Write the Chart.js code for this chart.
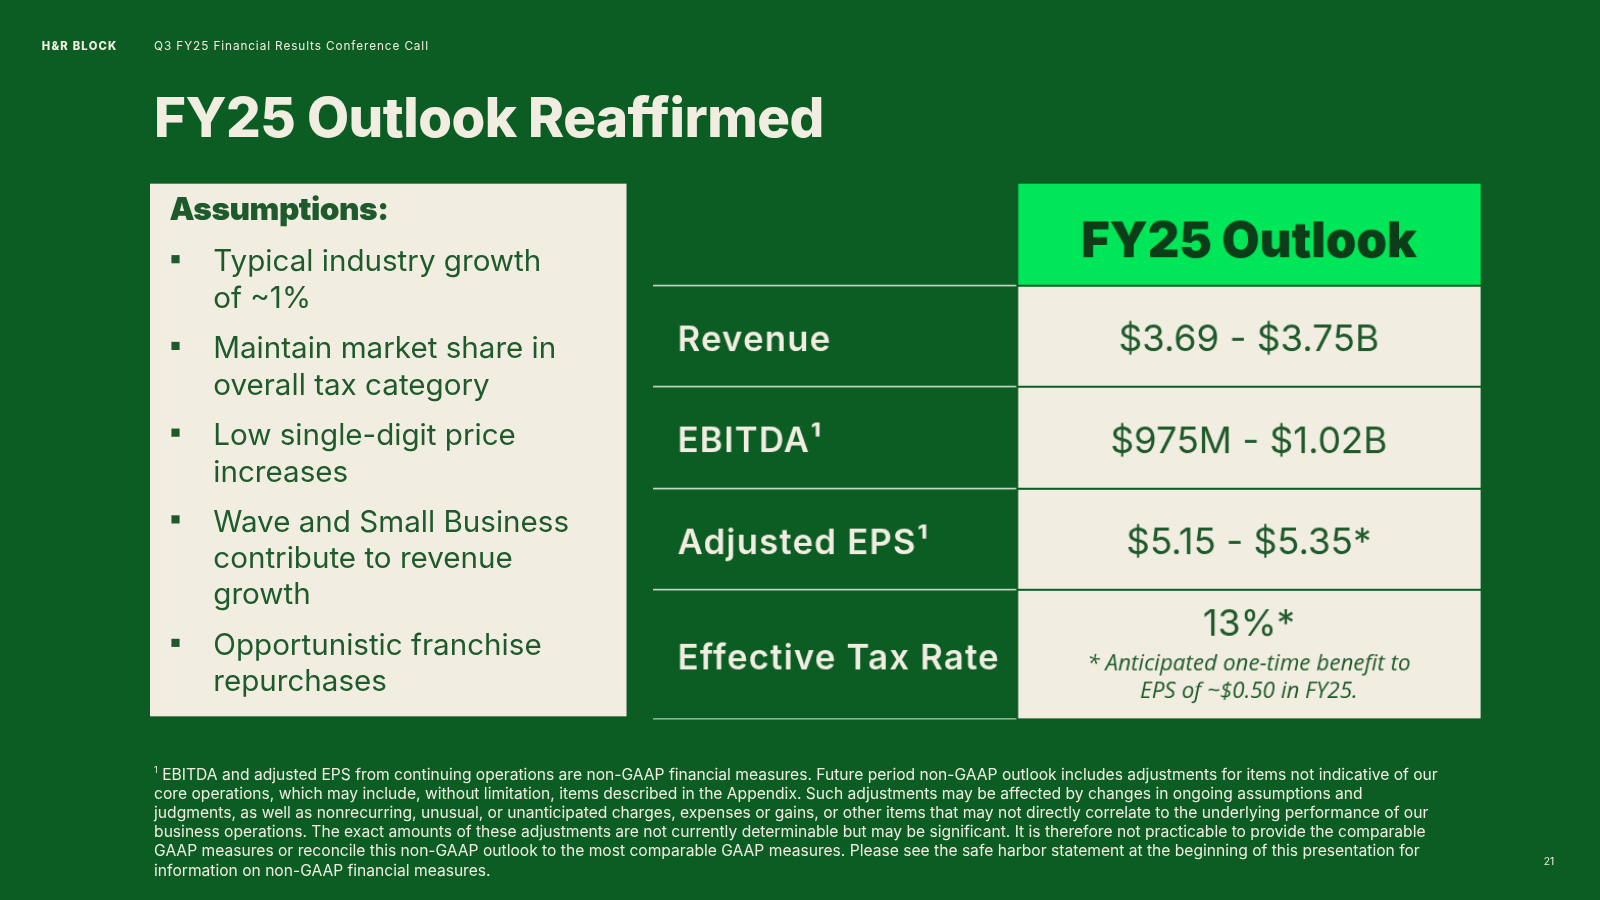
<!DOCTYPE html>
<html><head><meta charset="utf-8">
<script src="https://cdn.jsdelivr.net/npm/chart.js@4"></script>
<style>
html,body{margin:0;padding:0;width:1600px;height:900px;overflow:hidden;background:#0b5d23;font-family:Inter,"Open Sans",sans-serif;color:#f1ede1}
#wrap{position:absolute;left:0;top:0;width:1568px;height:882px;transform:scale(1.0204);transform-origin:0 0}
.abs{position:absolute}
#brand{left:41px;top:38px;font-size:11px;font-weight:800;letter-spacing:1.2px}
#sub{left:151px;top:38px;font-size:11.5px;letter-spacing:0.9px}
#title{left:151px;top:82px;font-size:53.5px;font-weight:800;letter-spacing:-0.5px}
#box{left:147px;top:180px;width:467px;height:522px;background:#f1ede1;color:#1e5a2b}
#box h2{margin:0;position:absolute;left:19px;top:6px;font-size:31px;font-weight:900;letter-spacing:-0.5px}
#box ul{position:absolute;left:19px;top:58px;margin:0;padding:0;list-style:none;width:440px}
#box li{position:relative;padding-left:43px;font-size:29px;line-height:35.5px;margin-bottom:14px;font-weight:400;white-space:nowrap}
#box li:before{content:"";position:absolute;left:2px;top:12px;width:8px;height:8px;background:#1e5a2b}
#cv{left:640px;top:180px;width:811px;height:525px}
#foot{left:151px;top:746px;width:1268px;font-size:15.3px;line-height:18.7px}
#pg{left:1513px;top:838px;font-size:10px}
</style></head><body>
<div id="wrap">
<div class="abs" id="brand">H&amp;R BLOCK</div>
<div class="abs" id="sub">Q3 FY25 Financial Results Conference Call</div>
<div class="abs" id="title">FY25 Outlook Reaffirmed</div>
<div class="abs" id="box"><h2>Assumptions:</h2>
<ul>
<li>Typical industry growth<br>of ~1%</li>
<li>Maintain market share in<br>overall tax category</li>
<li>Low single-digit price<br>increases</li>
<li>Wave and Small Business<br>contribute to revenue<br>growth</li>
<li>Opportunistic franchise<br>repurchases</li>
</ul></div>
<div class="abs" id="cv"><canvas id="c" width="811" height="525"></canvas></div>
<div class="abs" id="foot"><sup style="font-size:9px">1</sup> EBITDA and adjusted EPS from continuing operations are non-GAAP financial measures. Future period non-GAAP outlook includes adjustments for items not indicative of our core operations, which may include, without limitation, items described in the Appendix. Such adjustments may be affected by changes in ongoing assumptions and judgments, as well as nonrecurring, unusual, or unanticipated charges, expenses or gains, or other items that may not directly correlate to the underlying performance of our business operations. The exact amounts of these adjustments are not currently determinable but may be significant. It is therefore not practicable to provide the comparable GAAP measures or reconcile this non-GAAP outlook to the most comparable GAAP measures. Please see the safe harbor statement at the beginning of this presentation for information on non-GAAP financial measures.</div>
<div class="abs" id="pg">21</div>
</div>
<script>
const rowLabels = ["", "Revenue", "EBITDA¹", "Adjusted EPS¹", "Effective Tax Rate"];
const rowValues = ["FY25 Outlook", "$3.69 - $3.75B", "$975M - $1.02B", "$5.15 - $5.35*", "13%*"];
const noteLines = ["* Anticipated one-time benefit to", "EPS of ~$0.50 in FY25."];
const rowEdges = [0, 1, 2, 3, 4, 5.27];
const colEdges = [0, 0.44, 1];

const tablePlugin = {
  id: 'table',
  afterDraw(chart) {
    const {ctx, scales: {x, y}} = chart;
    const X = v => x.getPixelForValue(v), Y = v => y.getPixelForValue(v);
    ctx.save();
    for (let i = 0; i < rowLabels.length; i++) {
      const t = Y(rowEdges[i]), b = Y(rowEdges[i+1]);
      const l1 = X(colEdges[1]), r = X(colEdges[2]);
      ctx.fillStyle = i === 0 ? '#00e659' : '#f1ede1';
      ctx.fillRect(l1, t, r - l1, b - t);
      const cx = (l1 + r) / 2;
      ctx.textAlign = 'center'; ctx.textBaseline = 'middle';
      if (i === 0) {
        ctx.fillStyle = '#0b3d18';
        ctx.font = '900 48px Inter';
        ctx.fillText(rowValues[i], cx, (t + b) / 2 + 8);
      } else if (i === rowLabels.length - 1) {
        ctx.fillStyle = '#1e5a2b';
        ctx.font = '36px Inter';
        ctx.fillText(rowValues[i], cx, t + 34);
        ctx.font = 'italic 22px "Open Sans"';
        ctx.fillText(noteLines[0], cx, t + 72);
        ctx.fillText(noteLines[1], cx, t + 99);
      } else {
        ctx.fillStyle = '#1e5a2b';
        ctx.font = '36px Inter';
        ctx.fillText(rowValues[i], cx, (t + b) / 2 + 4);
      }
      if (rowLabels[i]) {
        ctx.textAlign = 'left';
        ctx.fillStyle = '#f1ede1';
        ctx.font = '600 34px Inter';
        ctx.letterSpacing = '1.2px';
        ctx.fillText(rowLabels[i], X(0) + 24, (t + b) / 2 + 4);
        ctx.letterSpacing = '0px';
      }
    }
    for (let i = 1; i < rowEdges.length; i++) {
      const yy = Math.round(Y(rowEdges[i])) - 1;
      ctx.fillStyle = '#d8e6d6';
      ctx.fillRect(X(colEdges[0]), yy, X(colEdges[1]) - X(colEdges[0]), 1.5);
      ctx.fillStyle = '#0b5d23';
      ctx.fillRect(X(colEdges[1]), yy, X(colEdges[2]) - X(colEdges[1]), 2);
    }
    ctx.fillStyle = '#0b5d23';
    ctx.fillRect(X(colEdges[1]) - 1, Y(0), 2, Y(rowEdges[rowEdges.length-1]) - Y(0));
    ctx.restore();
  }
};

new Chart(document.getElementById('c'), {
  type: 'scatter',
  data: { datasets: [{ data: [] }] },
  options: {
    responsive: false, animation: false,
    layout: { padding: 0 },
    plugins: { legend: { display: false }, tooltip: { enabled: false } },
    scales: {
      x: { type: 'linear', min: colEdges[0], max: colEdges[2], display: false },
      y: { type: 'linear', min: rowEdges[0], max: rowEdges[rowEdges.length-1], reverse: true, display: false }
    }
  },
  plugins: [tablePlugin]
});
</script>
</body></html>
